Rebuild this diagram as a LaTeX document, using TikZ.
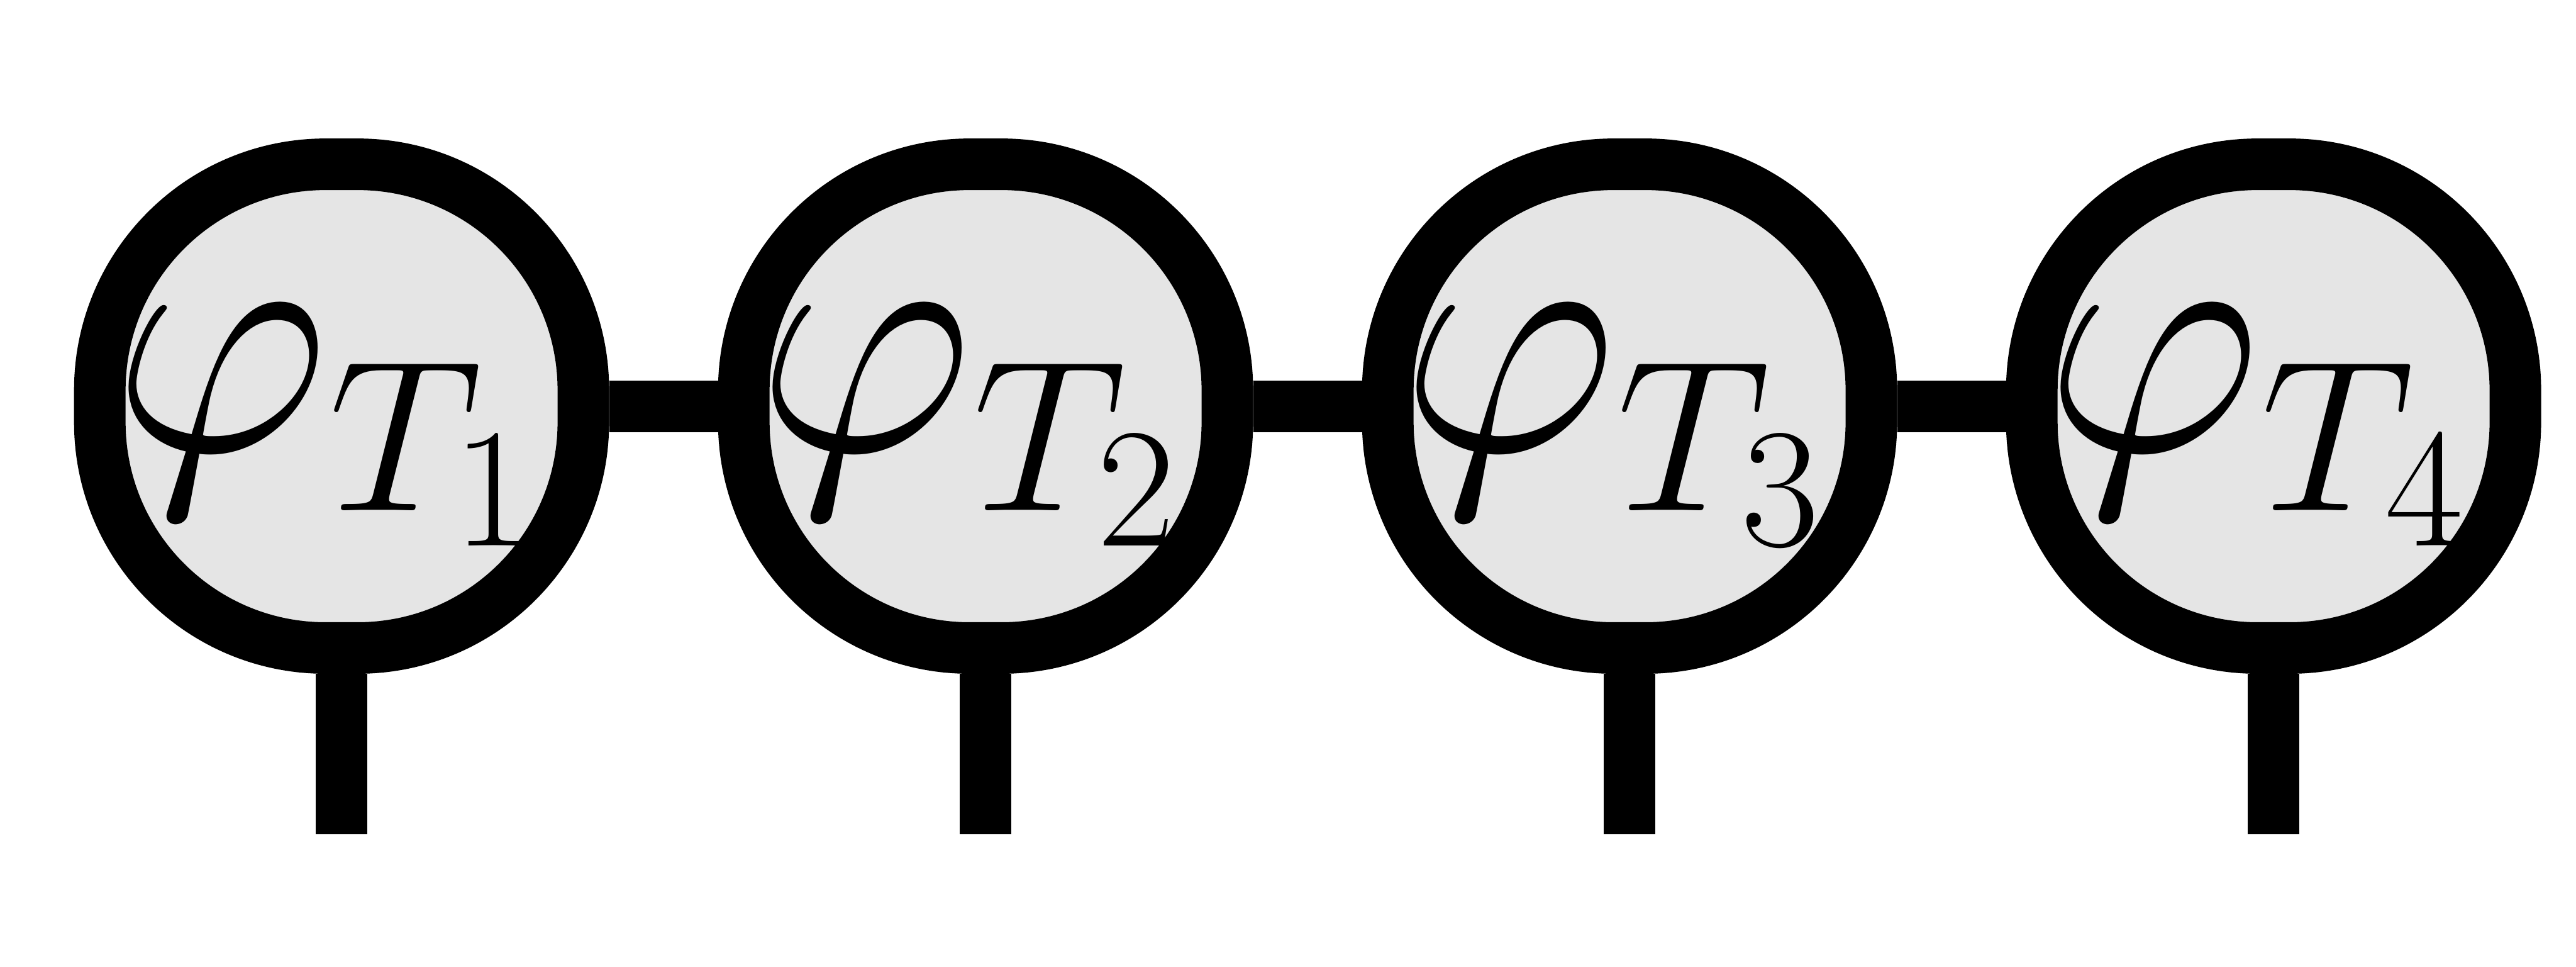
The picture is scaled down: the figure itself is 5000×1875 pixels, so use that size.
\RequirePackage{fix-cm}
\documentclass[tikz,border=0pt]{standalone}
\DeclareMathSizes{187}{187}{119}{94}
\newcommand{\tlabel}[1]{$\varphi_{\raisebox{-0.16cm}{$\scriptstyle T_{#1}$}}$}
\begin{document}
\begin{tikzpicture}[x=0.01cm,y=-0.01cm,
  tnode/.style={draw=black, fill=black!10, line width=1cm, rectangle,
    rounded corners=4.38cm, minimum width=9.38cm, minimum height=9.38cm,
    inner sep=0pt},
  tlab/.style={inner sep=0pt, font=\fontsize{187pt}{220pt}\selectfont},
  conn/.style={draw=black, line width=1cm, line cap=butt}]
\useasboundingbox (0,0) rectangle (5000,1875);
\coordinate (l1) at (663,1619);
\coordinate (l2) at (1913,1619);
\coordinate (l3) at (3163,1619);
\coordinate (l4) at (4413,1619);
\node[tnode] (n1) at (663,788) {};
\node[tnode] (n2) at (1913,788) {};
\node[tnode] (n3) at (3163,788) {};
\node[tnode] (n4) at (4413,788) {};
\path[conn] (n1) -- (n2);
\path[conn] (n2) -- (n3);
\path[conn] (n3) -- (n4);
\path[conn] (n1) -- (l1);
\path[conn] (n2) -- (l2);
\path[conn] (n3) -- (l3);
\path[conn] (n4) -- (l4);
\node[tlab] (t1) at ([shift={(-37,38)}]n1.center) {\tlabel{1}};
\node[tlab] (t2) at ([shift={(-37,38)}]n2.center) {\tlabel{2}};
\node[tlab] (t3) at ([shift={(-37,38)}]n3.center) {\tlabel{3}};
\node[tlab] (t4) at ([shift={(-37,38)}]n4.center) {\tlabel{4}};
\end{tikzpicture}
\end{document}
